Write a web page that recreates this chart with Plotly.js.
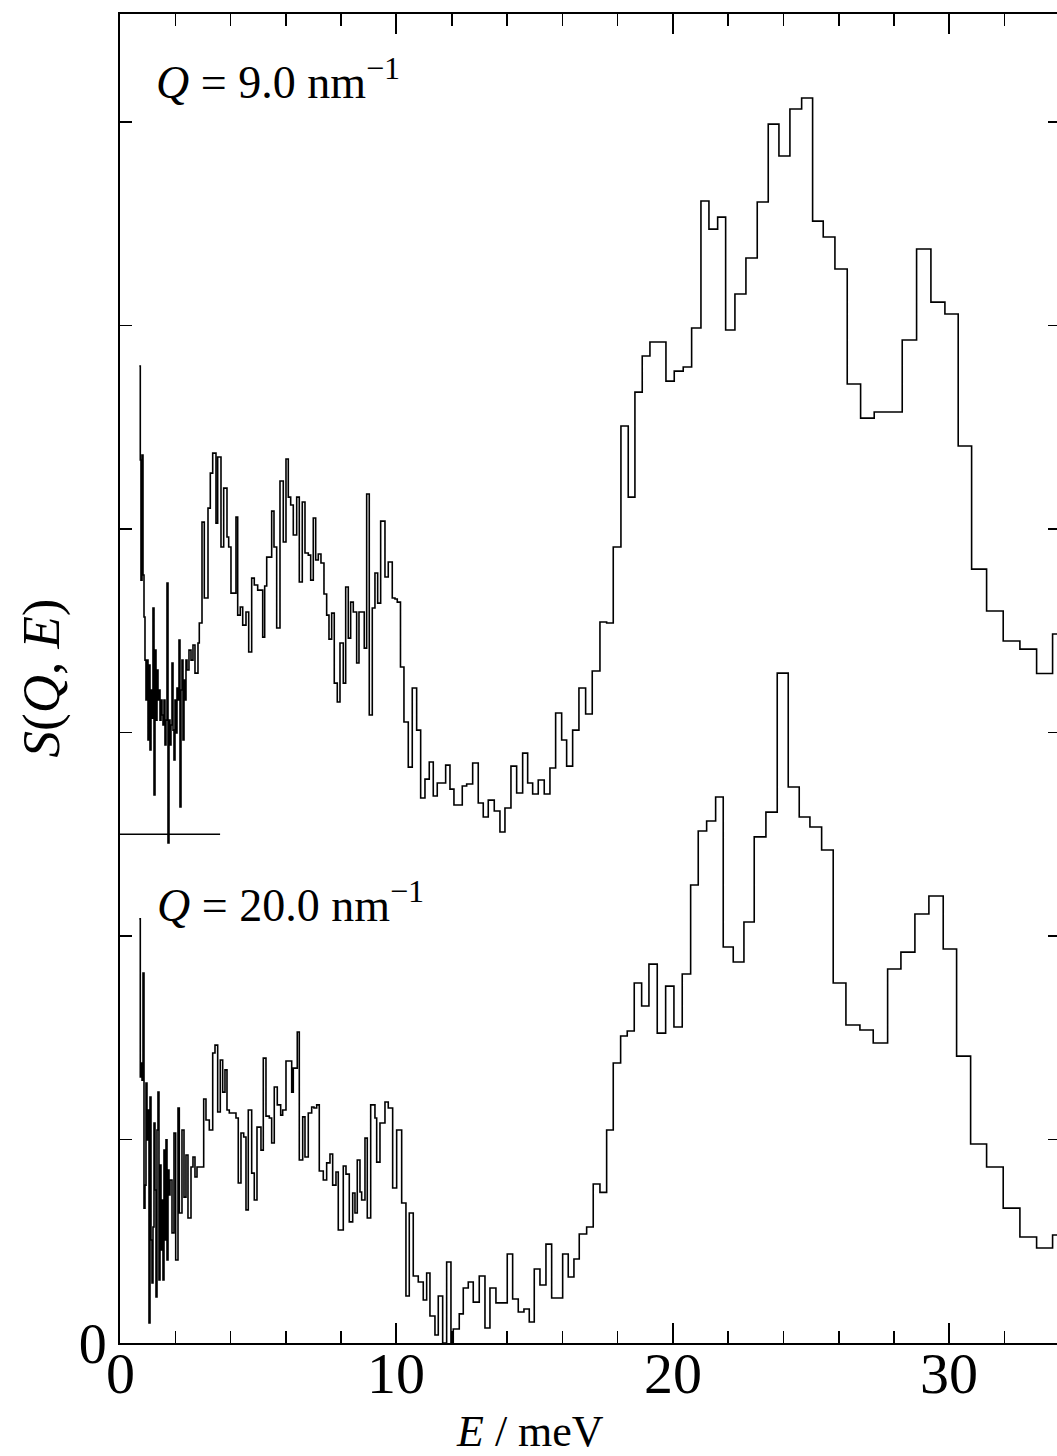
<!DOCTYPE html>
<html>
<head>
<meta charset="utf-8">
<script src="https://cdn.plot.ly/plotly-3.0.1.min.js"></script>
<style>
html,body{margin:0;padding:0;overflow:hidden;background:#fff;}
#plot{width:1066px;height:1456px;}
</style>
</head>
<body>
<div id="plot"></div>
<script>
// Bin edges (meV) and S(Q,E) values (arb. units)
const e9 = [0.698,0.734,0.759,0.796,0.832,0.868,0.904,0.940,0.976,1.013,1.049,1.085,1.121,1.157,1.193,1.230,1.266,1.302,1.338,1.374,1.410,1.447,1.483,1.519,1.555,1.591,1.627,1.664,1.700,1.736,1.772,1.808,1.844,1.881,1.917,1.953,1.989,2.025,2.061,2.098,2.134,2.170,2.206,2.242,2.278,2.315,2.351,2.387,2.423,2.495,2.568,2.640,2.712,2.821,2.868,2.966,3.049,3.183,3.266,3.353,3.472,3.533,3.653,3.750,3.870,3.931,4.014,4.195,4.257,4.351,4.438,4.557,4.655,4.763,4.857,4.980,5.161,5.233,5.306,5.486,5.570,5.667,5.787,5.906,6.004,6.087,6.174,6.268,6.391,6.485,6.593,6.691,6.810,6.897,6.991,7.078,7.172,7.269,7.378,7.475,7.559,7.656,7.750,7.859,7.957,8.076,8.163,8.257,8.343,8.438,8.560,8.644,8.763,8.835,8.922,9.016,9.125,9.222,9.320,9.428,9.584,9.703,9.848,9.946,10.029,10.145,10.271,10.427,10.571,10.730,10.875,11.031,11.186,11.331,11.475,11.779,11.935,12.079,12.380,12.539,12.756,12.958,13.139,13.320,13.537,13.743,13.924,14.141,14.347,14.564,14.745,14.926,15.128,15.345,15.551,15.757,15.975,16.155,16.372,16.600,16.842,17.081,17.360,17.602,17.841,18.119,18.383,18.625,18.889,19.168,19.468,19.747,20.047,20.372,20.676,21.013,21.302,21.617,21.906,22.242,22.640,23.049,23.447,23.834,24.231,24.655,25.052,25.436,25.859,26.304,26.788,27.280,27.787,28.293,28.813,29.331,29.837,30.318,30.803,31.345,31.946,32.550,33.154,33.732,34.3];
const s9 = [2.301,1.839,1.249,1.864,1.274,1.068,0.856,0.660,0.856,0.463,0.832,0.414,0.709,0.571,1.112,0.193,0.905,0.561,0.807,0.660,0.709,0.561,0.660,0.586,0.537,0.660,0.439,0.561,1.235,-0.043,0.561,0.439,0.537,0.842,0.512,0.365,0.660,0.498,0.719,0.660,0.955,0.134,0.709,0.856,0.463,0.758,0.660,0.856,0.807,0.905,0.856,0.930,0.792,0.940,1.038,1.534,1.161,1.603,1.775,1.873,1.529,1.854,1.412,1.701,1.461,1.412,1.185,1.559,1.077,1.117,1.028,1.092,0.896,1.259,1.225,1.200,0.969,1.220,1.362,1.588,1.412,1.014,1.736,1.436,1.844,1.657,1.618,1.471,1.657,1.240,1.633,1.382,1.372,1.249,1.554,1.348,1.377,1.333,1.181,1.077,0.959,1.087,0.743,0.650,0.940,0.743,1.215,0.964,1.141,1.092,0.842,1.092,1.092,0.915,1.672,0.586,1.112,1.284,1.136,1.539,1.264,1.338,1.161,1.156,1.141,0.822,0.552,0.330,0.719,0.512,0.178,0.271,0.355,0.188,0.252,0.340,0.222,0.144,0.237,0.247,0.350,0.154,0.085,0.168,0.114,0.011,0.129,0.335,0.203,0.399,0.252,0.198,0.267,0.198,0.326,0.596,0.463,0.335,0.512,0.719,0.591,0.802,1.043,1.038,1.412,2.006,1.657,2.173,2.350,2.419,2.419,2.227,2.276,2.296,2.488,3.112,2.974,3.033,2.478,2.655,2.832,3.107,3.490,3.333,3.564,3.618,3.013,2.935,2.778,2.213,2.045,2.075,2.075,2.429,2.876,2.615,2.557,1.908,1.303,1.097,0.950,0.910,0.790,0.984];

const e20 = [0.698,0.734,0.759,0.796,0.832,0.868,0.904,0.940,0.976,1.013,1.049,1.085,1.121,1.157,1.193,1.230,1.266,1.302,1.338,1.374,1.410,1.447,1.483,1.519,1.555,1.591,1.627,1.664,1.700,1.736,1.772,1.808,1.881,1.953,2.014,2.098,2.145,2.242,2.315,2.387,2.459,2.568,2.640,2.712,2.785,3.027,3.110,3.230,3.353,3.436,3.533,3.627,3.714,3.797,3.870,3.953,4.195,4.278,4.376,4.474,4.557,4.640,4.763,4.857,4.955,5.099,5.183,5.280,5.400,5.486,5.580,5.689,5.812,5.884,6.004,6.210,6.268,6.412,6.485,6.608,6.691,6.810,6.933,7.016,7.114,7.208,7.353,7.475,7.595,7.692,7.812,7.895,8.076,8.174,8.293,8.416,8.499,8.582,8.680,8.741,8.861,8.944,9.067,9.222,9.284,9.403,9.584,9.703,9.862,10.007,10.188,10.343,10.463,10.607,10.788,10.969,11.092,11.211,11.392,11.512,11.671,11.815,11.971,12.054,12.271,12.416,12.597,12.777,12.994,13.201,13.381,13.598,14.007,14.202,14.405,14.611,14.803,14.984,15.190,15.407,15.613,16.011,16.213,16.419,16.611,16.879,17.117,17.360,17.602,17.841,18.108,18.347,18.600,18.868,19.132,19.432,19.736,20.036,20.336,20.640,20.915,21.219,21.544,21.819,22.181,22.568,22.940,23.363,23.772,24.170,24.568,24.955,25.378,25.797,26.257,26.763,27.244,27.765,28.246,28.752,29.258,29.776,30.260,30.767,31.345,31.946,32.550,33.154,33.732,34.3];
const s20 = [2.084,1.307,1.376,1.292,1.818,0.663,0.776,1.278,0.998,1.145,0.098,1.209,0.506,0.295,0.570,1.081,0.752,0.226,1.047,1.233,0.310,0.875,0.457,0.703,0.310,0.948,0.506,0.998,0.408,0.850,0.727,0.801,0.541,1.032,0.408,1.155,0.639,1.047,0.717,0.924,0.614,0.865,0.914,0.816,0.865,1.199,1.096,1.047,1.425,1.464,1.135,1.391,1.233,1.342,1.145,1.130,1.106,0.786,1.032,1.012,0.654,1.145,0.835,0.703,1.061,0.948,1.400,1.115,1.106,0.983,1.258,1.170,1.120,1.145,1.386,1.233,1.351,1.528,0.899,1.111,0.914,1.130,1.160,1.155,1.170,0.845,0.801,0.885,0.929,0.776,0.840,0.555,0.870,0.830,0.595,0.737,0.639,0.899,0.742,0.703,1.007,0.614,1.170,1.106,0.889,1.081,1.184,1.155,0.762,1.047,0.688,0.231,0.639,0.329,0.300,0.211,0.344,0.133,0.039,0.231,0.000,0.398,0.000,0.069,0.143,0.270,0.300,0.201,0.329,0.074,0.270,0.197,0.437,0.216,0.152,0.167,0.103,0.364,0.285,0.486,0.221,0.437,0.324,0.413,0.536,0.570,0.781,0.740,1.047,1.376,1.509,1.533,1.769,1.656,1.862,1.523,1.754,1.553,1.813,2.251,2.516,2.565,2.683,1.946,1.872,2.069,2.487,2.609,3.292,2.732,2.585,2.536,2.423,1.769,1.563,1.538,1.474,1.838,1.921,2.108,2.197,1.936,1.410,0.978,0.865,0.663,0.521,0.467,0.531];

const offset9 = 2.5;          // vertical offset of the Q = 9.0 nm^-1 curve
const base9 = [0, 3.62];      // short zero line drawn for the offset curve
const xTickVals = [0, 10, 20, 30];
const xTickText = ['0', '10', '20', '30'];
const yTickVals = [0];
const yTickText = ['0'];

function stepTrace(edges, vals, off) {
  const n = Math.min(vals.length, edges.length - 1);
  const x = [], y = [];
  for (let i = 0; i < n; i++) { x.push(edges[i]); y.push(vals[i] + off); }
  x.push(edges[n]); y.push(vals[n - 1] + off);
  return {x: x, y: y, type: 'scatter', mode: 'lines',
          line: {shape: 'hv', color: '#000', width: 1.6}, hoverinfo: 'skip'};
}

const serif = 'Liberation Serif, Times New Roman, serif';
const traces = [
  stepTrace(e9, s9, offset9),
  stepTrace(e20, s20, 0),
  {x: base9, y: [offset9, offset9], type: 'scatter', mode: 'lines',
   line: {color: '#000', width: 1.6}, hoverinfo: 'skip'}
];

// x tick labels placed as text just under the axis (as in the original)
const xLabelAnn = xTickVals.map((v, i) => ({
  xref: 'x', yref: 'paper', x: v, y: 0, yshift: -30, xanchor: 'center', yanchor: 'middle',
  text: xTickText[i], showarrow: false, font: {family: serif, size: 58, color: '#000'}
}));

const layout = {
  width: 1066, height: 1456,
  margin: {l: 120, r: 6, t: 14, b: 113},
  paper_bgcolor: '#fff', plot_bgcolor: '#fff',
  showlegend: false,
  font: {family: serif, color: '#000'},
  xaxis: {
    range: [0, 34.0], showgrid: false, zeroline: false,
    showline: true, linewidth: 2, linecolor: '#000', mirror: 'ticks',
    ticks: 'inside', ticklen: 20, tickwidth: 2, tickcolor: '#000',
    tickvals: xTickVals, showticklabels: false,
    minor: {dtick: 2, tick0: 0, ticks: 'inside', ticklen: 12, tickwidth: 1.5, tickcolor: '#000'}
  },
  yaxis: {
    range: [0, 6.531], showgrid: false, zeroline: false,
    showline: true, linewidth: 2, linecolor: '#000', mirror: 'ticks',
    ticks: 'inside', ticklen: 12, tickwidth: 1.5, tickcolor: '#000',
    tickvals: yTickVals, ticktext: yTickText,
    minor: {dtick: 1, tick0: 0, ticks: 'inside', ticklen: 12, tickwidth: 1.5, tickcolor: '#000'},
    tickfont: {family: serif, size: 56, color: '#000'}
  },
  annotations: xLabelAnn.concat([
    {xref: 'paper', yref: 'paper', x: 0.036, y: 0.951, xanchor: 'left', yanchor: 'middle',
     text: '<i>Q</i> = 9.0 nm<sup>\u22121</sup>', showarrow: false,
     font: {family: serif, size: 46, color: '#000'}},
    {xref: 'paper', yref: 'paper', x: 0.037, y: 0.332, xanchor: 'left', yanchor: 'middle',
     text: '<i>Q</i> = 20.0 nm<sup>\u22121</sup>', showarrow: false,
     font: {family: serif, size: 46, color: '#000'}},
    {xref: 'paper', yref: 'paper', x: 0, xshift: -79, y: 0.50, xanchor: 'center', yanchor: 'middle',
     text: '<i>S</i>(<i>Q</i>, <i>E</i>)', textangle: -90, showarrow: false,
     font: {family: serif, size: 53, color: '#000'}},
    {xref: 'paper', yref: 'paper', x: 0.436, y: 0, yshift: -88, xanchor: 'center', yanchor: 'middle',
     text: '<i>E</i> / meV', showarrow: false,
     font: {family: serif, size: 44, color: '#000'}}
  ])
};

Plotly.newPlot('plot', traces, layout, {displayModeBar: false, staticPlot: true});
</script>
</body>
</html>
